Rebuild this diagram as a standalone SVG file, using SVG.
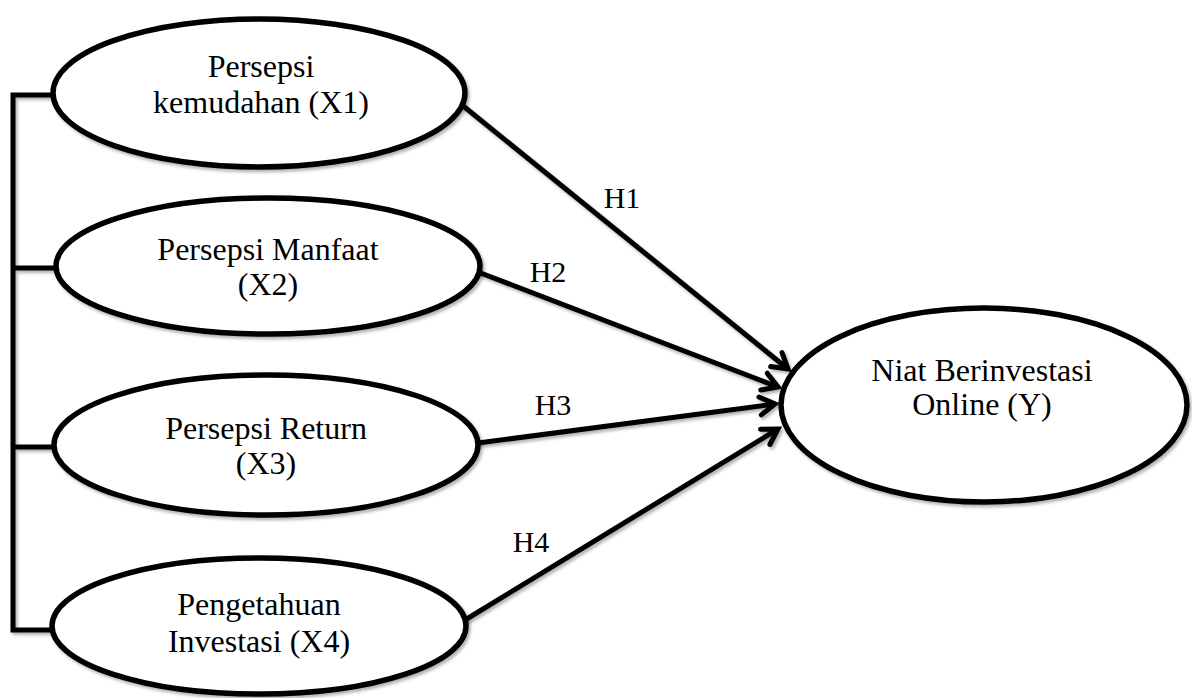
<svg xmlns="http://www.w3.org/2000/svg" width="1192" height="698" viewBox="0 0 1192 698">
<style>
.node{fill:#fff;stroke:#000;stroke-width:5.5}
.conn{fill:none;stroke:#000;stroke-width:5}
.t{font-family:"Liberation Serif","Times New Roman",serif;font-size:32px;fill:#000;text-anchor:middle}
.h{font-size:30px}
</style>
<defs>
<filter id="sh" x="-10%" y="-10%" width="120%" height="120%">
<feDropShadow dx="2" dy="2.5" stdDeviation="1.5" flood-color="#000" flood-opacity="0.3"/>
</filter>
<marker id="arr" markerUnits="userSpaceOnUse" markerWidth="30" markerHeight="30" viewBox="-20 -15 25 30" refX="0" refY="0" orient="auto">
<path d="M-15,-9 L0,0 L-15,9" fill="none" stroke="#000" stroke-width="5" stroke-linecap="round" stroke-linejoin="miter"/>
</marker>
</defs>
<rect width="1192" height="698" fill="#fff"/>
<g id="connectors" filter="url(#sh)">
<path class="conn" d="M55,95 H13 V630 H53 M13,268 H57 M13,447 H55"/>
<line class="conn" x1="462" y1="105" x2="788" y2="369" marker-end="url(#arr)"/>
<line class="conn" x1="478" y1="272" x2="778" y2="387" marker-end="url(#arr)"/>
<line class="conn" x1="478" y1="443" x2="775" y2="404" marker-end="url(#arr)"/>
<line class="conn" x1="465" y1="620" x2="778" y2="429" marker-end="url(#arr)"/>
</g>
<g id="labels">
<text class="t h" x="622" y="208">H1</text>
<text class="t h" x="548" y="282">H2</text>
<text class="t h" x="553" y="415">H3</text>
<text class="t h" x="531" y="552">H4</text>
</g>
<g id="x1">
<ellipse class="node" filter="url(#sh)" cx="259" cy="93" rx="206" ry="74"/>
<text class="t" x="261" y="77">Persepsi</text>
<text class="t" x="261" y="113">kemudahan (X1)</text>
</g>
<g id="x2">
<ellipse class="node" filter="url(#sh)" cx="268" cy="266" rx="212" ry="68"/>
<text class="t" x="268" y="260">Persepsi Manfaat</text>
<text class="t" x="268" y="295">(X2)</text>
</g>
<g id="x3">
<ellipse class="node" filter="url(#sh)" cx="266" cy="445" rx="212" ry="70"/>
<text class="t" x="266" y="439">Persepsi Return</text>
<text class="t" x="266" y="474">(X3)</text>
</g>
<g id="x4">
<ellipse class="node" filter="url(#sh)" cx="259" cy="626" rx="207" ry="68"/>
<text class="t" x="259" y="615">Pengetahuan</text>
<text class="t" x="259" y="652">Investasi (X4)</text>
</g>
<g id="y">
<ellipse class="node" filter="url(#sh)" cx="984" cy="405" rx="203" ry="97"/>
<text class="t" x="982" y="381">Niat Berinvestasi</text>
<text class="t" x="982" y="415">Online (Y)</text>
</g>
</svg>
